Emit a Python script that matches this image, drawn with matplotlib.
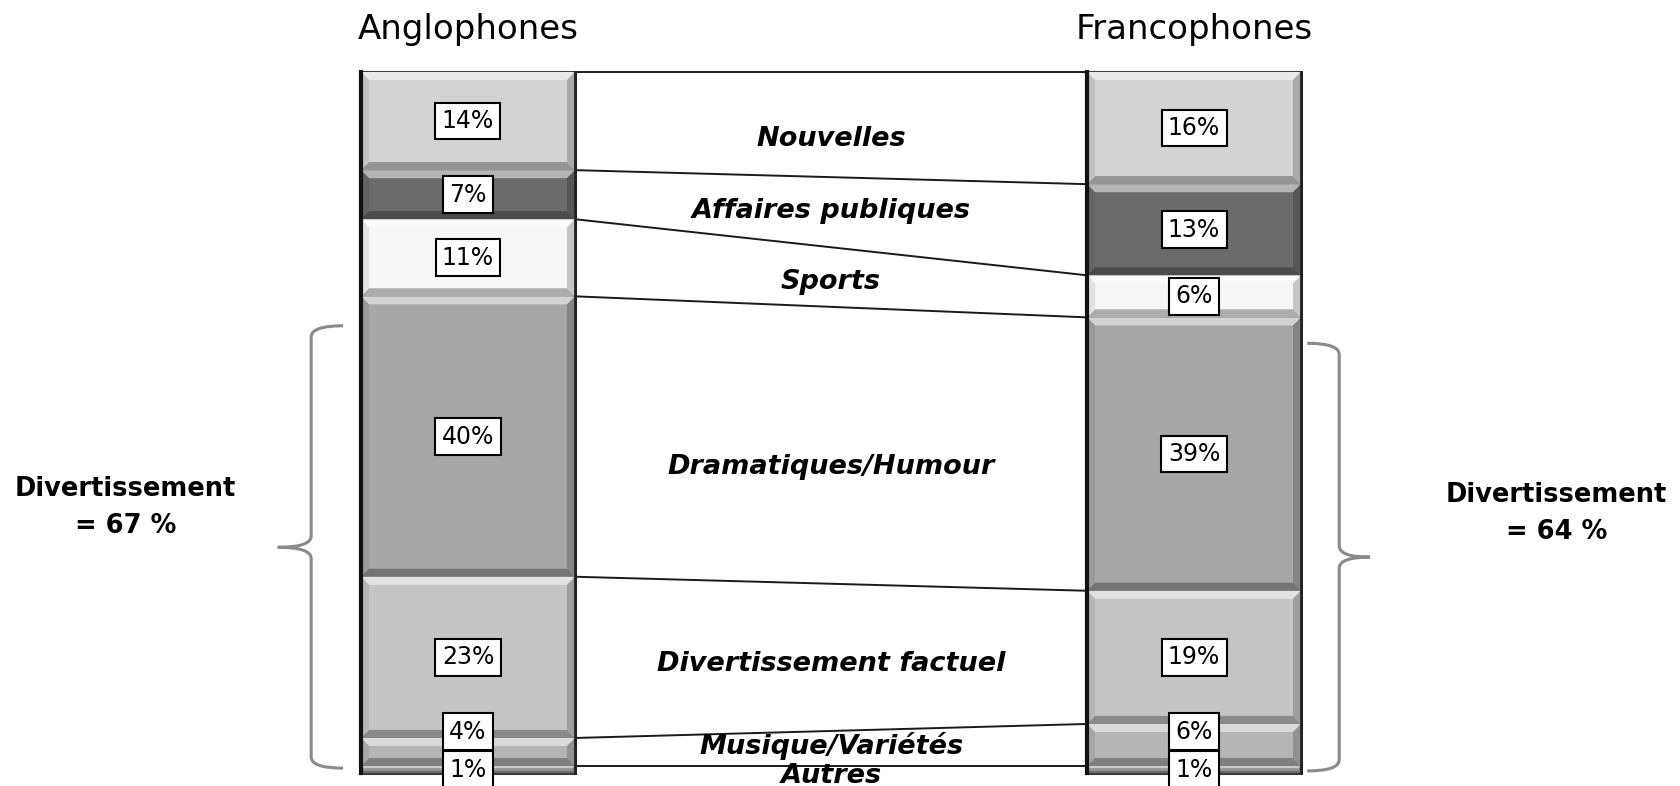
import numpy as np
import matplotlib.pyplot as plt
from matplotlib.patches import Polygon, PathPatch
from matplotlib.path import Path
from matplotlib.colors import to_rgb

# programme mix (% of viewing hours), top to bottom of each stack
categories = ['Nouvelles', 'Affaires publiques', 'Sports', 'Dramatiques/Humour',
              'Divertissement factuel', 'Musique/Variétés', 'Autres']
anglophones = [14, 7, 11, 40, 23, 4, 1]
francophones = [16, 13, 6, 39, 19, 6, 1]
groups = ['Anglophones', 'Francophones']
divert_totals = [67, 64]

seg_colors = ['#d3d3d3', '#6b6b6b', '#f6f6f6', '#a6a6a6', '#c5c5c5', '#b5b5b5', '#979797']
# where the category names sit between the stacks (in % units)
mid_label_y = [9.6, 19.8, 30.0, 56.3, 84.4, 96.1, 100.4]

plt.rcParams['font.family'] = ['DejaVu Sans']

fig = plt.figure(figsize=(16.8, 7.86), dpi=100)
ax = fig.add_axes([0, 0, 1, 1])
ax.set_xlim(-0.6446, 1.6694)
ax.set_ylim(101.85, -10.27)
ax.axis('off')

w = 0.2948
bx, by = 0.011, 1.15
xs = [0, 1]


def mix(c, other, t):
    c = np.array(to_rgb(c))
    o = np.array(to_rgb(other))
    return tuple(c * (1 - t) + o * t)


for xi, vals in zip(xs, [anglophones, francophones]):
    vals = np.array(vals)
    bottoms = np.concatenate([[0], np.cumsum(vals)[:-1]])
    ax.bar(xi, vals, bottom=bottoms, width=w, color=seg_colors,
           edgecolor='#3c3c3c', linewidth=2.2, zorder=2)
    # bevelled look on each segment
    for v, b, col in zip(vals, bottoms, seg_colors):
        x0, x1 = xi - w / 2, xi + w / 2
        y0, y1 = b, b + v
        dy = min(by, 0.3 * v)
        dx = bx * dy / by
        top = [(x0, y0), (x1, y0), (x1 - dx, y0 + dy), (x0 + dx, y0 + dy)]
        bot = [(x0, y1), (x1, y1), (x1 - dx, y1 - dy), (x0 + dx, y1 - dy)]
        lft = [(x0, y0), (x0 + dx, y0 + dy), (x0 + dx, y1 - dy), (x0, y1)]
        rgt = [(x1, y0), (x1 - dx, y0 + dy), (x1 - dx, y1 - dy), (x1, y1)]
        for pts, shade in [(top, mix(col, 'white', 0.5)), (bot, mix(col, 'black', 0.3)),
                           (lft, mix(col, 'black', 0.08)), (rgt, mix(col, 'black', 0.2))]:
            ax.add_patch(Polygon(pts, closed=True, fc=shade, ec='none', zorder=3))
    ax.plot([xi - w / 2] * 2, [0, 100], color='#111111', lw=3, zorder=4)
    ax.plot([xi + w / 2] * 2, [0, 100], color='#222222', lw=2, zorder=4)

    # value boxes, pushed upward when the thin segments at the bottom collide
    ys = list(bottoms + vals / 2)
    box_h = 5.4
    for i in range(len(ys) - 2, -1, -1):
        if ys[i + 1] - ys[i] < box_h:
            ys[i] = ys[i + 1] - box_h
    for v, yc in zip(vals, ys):
        ax.text(xi, yc, f'{v}%', ha='center', va='center', fontsize=17, zorder=6,
                bbox=dict(boxstyle='square,pad=0.27', fc='white', ec='black', lw=1.5))

# lines joining the segment boundaries of both stacks
cum_a = np.concatenate([[0], np.cumsum(anglophones)[:-1]])
cum_f = np.concatenate([[0], np.cumsum(francophones)[:-1]])
for ya, yf in zip(cum_a, cum_f):
    ax.plot([w / 2, 1 - w / 2], [ya, yf], color='#1a1a1a', lw=1.4, zorder=1)

for name, yl in zip(categories, mid_label_y):
    ax.text(0.5, yl, name, ha='center', va='center', fontsize=19.5,
            fontweight='bold', fontstyle='italic', zorder=5)

for xi, g in zip(xs, groups):
    ax.text(xi, -6.0, g, ha='center', va='center', fontsize=24.5)


def brace(x_line, x_end, x_tip, y_top, y_mid, y_bot, r=1.6):
    verts = [(x_end, y_top), (x_line, y_top), (x_line, y_top + r),
             (x_line, y_mid - r), (x_line, y_mid), (x_tip, y_mid),
             (x_line, y_mid), (x_line, y_mid + r),
             (x_line, y_bot - r), (x_line, y_bot), (x_end, y_bot)]
    codes = [Path.MOVETO, Path.CURVE3, Path.CURVE3,
             Path.LINETO, Path.CURVE3, Path.CURVE3,
             Path.CURVE3, Path.CURVE3,
             Path.LINETO, Path.CURVE3, Path.CURVE3]
    ax.add_patch(PathPatch(Path(verts, codes), fc='none', ec='#8a8a8a', lw=2.2))


brace(-0.216, -0.172, -0.262, 36.2, 67.8, 99.3)
brace(1.200, 1.156, 1.242, 38.7, 69.2, 99.7)

ax.text(-0.472, 62.1, f'Divertissement\n= {divert_totals[0]} %', ha='center', va='center',
        fontsize=18.5, fontweight='bold', linespacing=1.55)
ax.text(1.499, 63.0, f'Divertissement\n= {divert_totals[1]} %', ha='center', va='center',
        fontsize=18.5, fontweight='bold', linespacing=1.55)

fig.savefig('out.png', dpi=100, facecolor='white')
